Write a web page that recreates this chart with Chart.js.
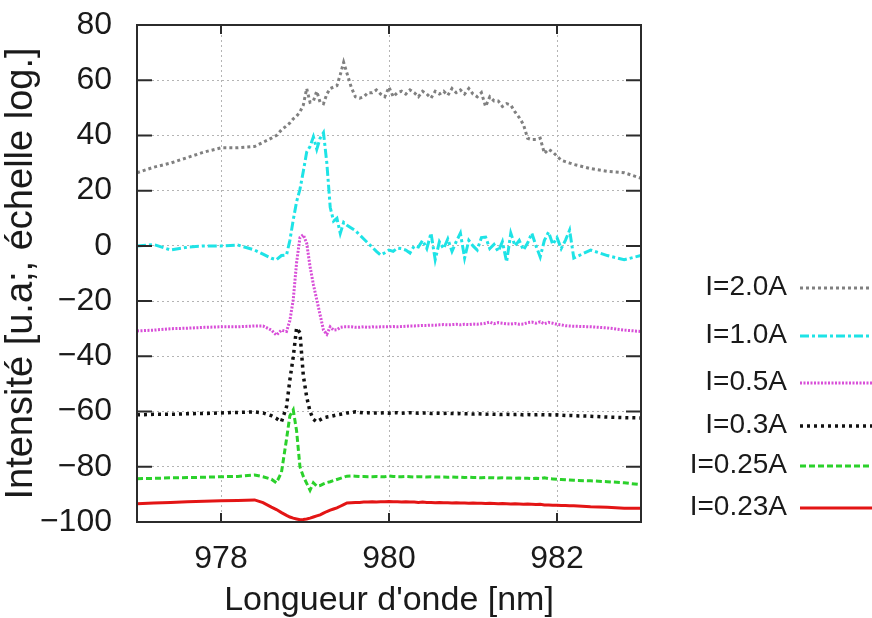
<!DOCTYPE html>
<html lang="fr">
<head>
  <meta charset="UTF-8" />
  <title>Spectre - Intensité vs longueur d'onde</title>
  <script src="https://cdn.jsdelivr.net/npm/chart.js"></script>
  <style>
    html, body { margin: 0; padding: 0; background: #fff; }
    #wrap { width: 872px; height: 618px; }
  </style>
</head>
<body>
  <div id="wrap">
    <canvas id="spectre" width="872" height="618"></canvas>
  </div>

  <script>
    // Longueurs d'onde (nm), communes à toutes les courbes
    const wavelength = [
      977.0, 977.2, 977.4, 977.6, 977.8, 978.0, 978.2, 978.4, 978.5, 978.6,
      978.66, 978.72, 978.78, 978.82, 978.86, 978.9, 978.94, 978.98, 979.02, 979.06,
      979.1, 979.14, 979.18, 979.22, 979.26, 979.3, 979.34, 979.38, 979.42, 979.46,
      979.5, 979.55, 979.6,
      979.65, 979.7, 979.75, 979.8, 979.85, 979.9, 979.95, 980.0, 980.05, 980.1,
      980.15, 980.2, 980.25, 980.3, 980.35, 980.4, 980.45, 980.5, 980.55, 980.6,
      980.65, 980.7, 980.75, 980.8, 980.85, 980.9, 980.95, 981.0, 981.05, 981.1,
      981.15, 981.2, 981.25, 981.3, 981.35, 981.4, 981.45, 981.5, 981.55, 981.6,
      981.65, 981.7, 981.75, 981.8, 981.85, 981.9, 981.95, 982.0, 982.05, 982.1,
      982.15, 982.2,
      982.4, 982.6, 982.8, 983.0
    ];

    const i20 = [
      26.5, 28.5, 30, 32, 34, 35.5, 35.5, 36, 37.5, 39,
      40, 42, 43.5, 44.5, 46, 47, 48.5, 51, 57, 52,
      52.5, 56, 52, 51.5, 55, 57, 57.5, 58, 62, 66.5,
      62.5, 57.5, 54,
      53.5, 54, 55.5, 55.5, 56.5, 55, 54, 57.5, 54, 55.5,
      56, 55, 56.5, 55.5, 54, 56, 55, 53.5, 56, 55,
      56, 54.5, 57, 55.5, 56.5, 55, 57, 55, 54, 55.5,
      50.5, 54, 52.5, 52.5, 50.5, 51.5, 51, 48.5, 46.5, 44,
      39, 38.5, 38.5, 39, 33.5, 35, 34, 32.5, 31, 30.5,
      30, 29.5,
      28, 27, 26.5, 24.5
    ];

    const i10 = [
      0, 0.5, -1.5, -0.5, 0, 0, 0.3, -1.5, -3, -4.5,
      -5, -3.5, -3.3, 2, 9.4, 16, 20.5, 27, 34, 36,
      39.5, 35, 39, 41, 30, 14, 9, 10, 4.5, 8.5,
      7.5, 6.5, 5.5,
      4, 2.5, 1, -0.5, -2, -3.3, -2.5, -1.5, -2, -0.8,
      -1, -1.5, -2.6, 0, -0.4, 2, -1, 4.6, -5, 1.5,
      -1, 2.5, -2, 1.5, 4.6, -4.4, 2, 0, -1.5, 3,
      3.2, -1, 0.5, -2, 1.5, -5.8, 4.6, 0, 2, -1.5,
      1, 4.6, 0, -4, 2, 5, 0.5, 3, -1, 2,
      5.7, -4.4,
      -1.5, -3.5, -5, -3.5
    ];

    const i05 = [
      -30.8, -30.5, -30, -29.8, -29.5, -29.3, -29.3, -29, -29, -30.5,
      -32.3, -30.5, -31, -27, -19.5, -6, 3, 4, 1, -7.5,
      -14, -19.5, -25, -30.5, -32, -29.3, -30.5, -30.4, -29.5, -29.3,
      -29.3, -29.3, -29.5,
      -29.5, -29.3, -29.5, -29.3, -29.4, -29.3, -29.3, -29.3, -29.2, -29.3,
      -29.2, -29.1, -29.0, -29.0, -28.9, -28.8, -28.8, -28.7, -28.7, -28.6,
      -28.5, -28.6, -28.5, -28.4, -28.6, -28.4, -28.5, -28.3, -28.4, -28.2,
      -28.0, -27.6, -28.2, -27.8, -28.0, -28.2, -28.3, -28.1, -28.4, -28.3,
      -27.8, -27.6, -28.0, -27.5, -28.2, -27.7, -28.0, -28.4, -28.6, -28.9,
      -29.0, -29.1,
      -29.3, -29.7, -30.5, -31
    ];

    const i03 = [
      -61.2, -61, -61, -60.8, -60.7, -60.5, -60.3, -60.1, -60.5, -61.5,
      -62.5, -63.7, -58.3, -48.5, -40.2, -29.7, -31.5, -47, -54.7, -60,
      -62.8, -63.7, -63, -62.3, -62, -61.8, -61.5, -61.2, -61, -60.8,
      -60.5, -60.3, -60.1,
      -60.3, -60.5, -60.4, -60.6, -60.5, -60.5, -60.4, -60.6, -60.5, -60.4,
      -60.6, -60.5, -60.4, -60.5, -60.6, -60.5, -60.5, -60.7, -60.6, -60.6,
      -60.7, -60.6, -60.7, -60.8, -60.7, -60.8, -60.8, -60.9, -60.8, -60.9,
      -61.0, -60.9, -61.0, -61.0, -61.1, -61.0, -61.1, -61.1, -61.0, -61.2,
      -61.1, -61.2, -61.2, -61.1, -61.2, -61.2, -61.3, -61.2, -61.3, -61.4,
      -61.4, -61.5,
      -61.7, -62, -62.2, -62.3
    ];

    const i025 = [
      -84.3, -84.2, -84, -83.9, -83.8, -83.6, -83.5, -83, -83.6, -84.5,
      -85.8, -82, -70, -61.5, -59.4, -67, -80, -83.5, -86, -88.5,
      -85.8, -87, -86.8, -86.2, -85.7, -85.4, -85, -84.6, -84.2, -83.8,
      -83.4, -83.3, -83.4,
      -83.5, -83.5, -83.6, -83.6, -83.5, -83.6, -83.6, -83.3, -83.5, -83.6,
      -83.6, -83.5, -83.6, -83.7, -83.6, -83.6, -83.7, -83.6, -83.7, -83.7,
      -83.7, -83.8, -83.7, -83.8, -83.8, -83.9, -83.8, -83.9, -83.9, -84.0,
      -83.9, -84.0, -84.0, -84.1, -84.0, -84.1, -84.1, -84.2, -84.1, -84.2,
      -84.2, -84.3, -84.2, -84.3, -84.0, -84.3, -84.4, -84.5, -84.6, -84.7,
      -84.8, -84.9,
      -85.1, -85.4, -85.8, -86.5
    ];

    const i023 = [
      -93.4, -93.1, -92.9, -92.7, -92.5, -92.3, -92.2, -92, -93, -94.6,
      -95.5, -96.6, -97.6, -98.2, -98.6, -98.9, -99.2, -99.1, -98.9, -98.6,
      -98.2, -97.8, -97.4, -96.8, -96.2, -95.7, -95.3, -94.9, -94.3, -93.7,
      -93.1, -93, -92.9,
      -92.9, -92.8, -92.8, -92.7, -92.8, -92.7, -92.7, -92.6, -92.7, -92.7,
      -92.8, -92.7, -92.8, -92.8, -92.9, -92.8, -92.9, -92.9, -93.0, -92.9,
      -93.0, -93.0, -93.1, -93.0, -93.1, -93.1, -93.2, -93.1, -93.2, -93.2,
      -93.3, -93.2, -93.3, -93.4, -93.3, -93.4, -93.5, -93.4, -93.5, -93.6,
      -93.5, -93.6, -93.7, -93.6, -93.8, -93.8, -93.9, -93.9, -94.0, -94.0,
      -94.1, -94.1,
      -94.5, -94.7, -95.0, -95.0
    ];

    const seriesLabels = ['I=2.0A', 'I=1.0A', 'I=0.5A', 'I=0.3A', 'I=0.25A', 'I=0.23A'];
    const seriesValues = [i20, i10, i05, i03, i025, i023];
    const xTickValues = [978, 980, 982];

    // Styles des courbes (couleur, tirets, épaisseur)
    const styles = [
      { color: '#808080', dash: [3, 3], width: 3 },
      { color: '#1ee3e6', dash: [9, 3, 3, 3], width: 3 },
      { color: '#d84fd8', dash: [2, 1.5], width: 3 },
      { color: '#111111', dash: [3, 4], width: 3.5 },
      { color: '#2bd12b', dash: [6, 3], width: 3 },
      { color: '#e31515', dash: [], width: 3 },
    ];

    const FONT = '"Liberation Sans", Arial, sans-serif';

    const datasets = seriesLabels.map((label, k) => ({
      label: label,
      data: wavelength.map((w, i) => ({ x: w, y: seriesValues[k][i] })),
      borderColor: styles[k].color,
      borderDash: styles[k].dash,
      borderWidth: styles[k].width,
      borderCapStyle: 'butt',
      pointRadius: 0,
      tension: 0,
      fill: false,
    }));

    // Cadre + graduations intérieures (style gnuplot) et légende à droite
    const framePlugin = {
      id: 'frame',
      afterDatasetsDraw(chart) {
        const { ctx, chartArea: a, scales } = chart;
        ctx.save();
        ctx.strokeStyle = '#2b2b2b';
        ctx.lineWidth = 2;
        ctx.strokeRect(a.left, a.top, a.right - a.left, a.bottom - a.top);
        ctx.beginPath();
        scales.y.ticks.forEach(t => {
          const y = scales.y.getPixelForValue(t.value);
          ctx.moveTo(a.left, y); ctx.lineTo(a.left + 15, y);
          ctx.moveTo(a.right, y); ctx.lineTo(a.right - 15, y);
        });
        scales.x.ticks.forEach(t => {
          const x = scales.x.getPixelForValue(t.value);
          ctx.moveTo(x, a.bottom); ctx.lineTo(x, a.bottom - 9);
          ctx.moveTo(x, a.top); ctx.lineTo(x, a.top + 9);
        });
        ctx.stroke();
        ctx.restore();
      },
      afterDraw(chart) {
        const { ctx } = chart;
        const rows = [287, 335, 382, 425, 465, 507];
        ctx.save();
        ctx.font = '28px ' + FONT;
        ctx.fillStyle = '#1a1a1a';
        ctx.textAlign = 'right';
        ctx.textBaseline = 'middle';
        chart.data.datasets.forEach((ds, k) => {
          const y = rows[k];
          ctx.fillText(ds.label, 787, y);
          ctx.beginPath();
          ctx.strokeStyle = ds.borderColor;
          ctx.lineWidth = ds.borderWidth;
          ctx.setLineDash(ds.borderDash);
          ctx.moveTo(800, y + 1);
          ctx.lineTo(872, y + 1);
          ctx.stroke();
        });
        ctx.restore();
      }
    };

    const ctx = document.getElementById('spectre').getContext('2d');
    new Chart(ctx, {
      type: 'line',
      data: { datasets: datasets },
      options: {
        responsive: false,
        animation: false,
        devicePixelRatio: 1,
        layout: { padding: { top: 25, right: 231, left: 0, bottom: 0 } },
        plugins: {
          legend: { display: false },
          tooltip: { enabled: false },
        },
        scales: {
          x: {
            type: 'linear',
            min: 977,
            max: 983,
            afterBuildTicks: s => { s.ticks = xTickValues.map(v => ({ value: v })); },
            afterFit: s => { s.height = 96; },
            grid: { color: '#b4b4b4', lineWidth: 1, drawTicks: false },
            border: { display: false, dash: [2, 3] },
            ticks: {
              padding: 18,
              color: '#1a1a1a',
              font: { family: FONT, size: 32 },
            },
            title: {
              display: true,
              text: "Longueur d'onde [nm]",
              color: '#1a1a1a',
              font: { family: FONT, size: 34, lineHeight: 1 },
              padding: { top: 0, bottom: 0 },
            },
          },
          y: {
            min: -100,
            max: 80,
            afterFit: s => { s.width = 137; s.paddingTop = 0; s.paddingBottom = 0; },
            grid: { color: '#b4b4b4', lineWidth: 1, drawTicks: false },
            border: { display: false, dash: [2, 3] },
            ticks: {
              stepSize: 20,
              padding: 25,
              color: '#1a1a1a',
              font: { family: FONT, size: 32 },
              callback: v => (v < 0 ? '\u2212' + Math.abs(v) : String(v)),
            },
            title: {
              display: true,
              text: 'Intensité [u.a;, échelle log.]',
              color: '#1a1a1a',
              font: { family: FONT, size: 38, lineHeight: 1.15 },
              padding: { top: 0, bottom: 0 },
            },
          },
        },
      },
      plugins: [framePlugin],
    });
  </script>
</body>
</html>
